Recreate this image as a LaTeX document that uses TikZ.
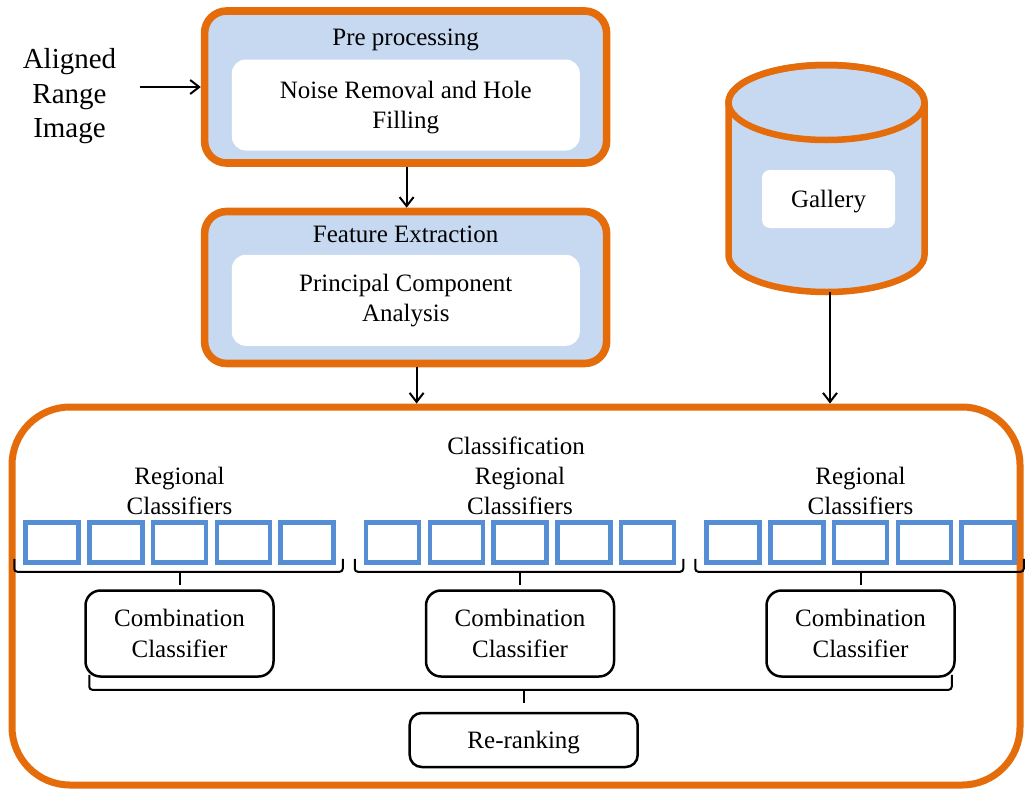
\documentclass[tikz,border=0pt]{standalone}
\usepackage{fontspec}
\setmainfont{Liberation Serif}
\usepackage{xcolor}
\usepackage{tikz}
\usetikzlibrary{arrows.meta,positioning}

\definecolor{boxorange}{HTML}{E46C0A}
\definecolor{paleblue}{HTML}{C6D9F1}
\definecolor{cellblue}{HTML}{558ED5}

\begin{document}
\begin{tikzpicture}[
    x=1pt, y=-1pt,
    font=\fontsize{25}{30.5}\selectfont,
    stage/.style={draw=boxorange, line width=7.6pt, fill=paleblue, rounded corners=22pt, minimum width=402pt, minimum height=152pt},
    panel/.style={fill=white, rounded corners=14pt, minimum width=348pt, minimum height=91pt, align=center},
    title/.style={anchor=base, inner sep=0pt},
    cell/.style={draw=cellblue, line width=4.5pt, minimum width=53pt, minimum height=40pt, inner sep=0pt},
    combo/.style={draw, line width=2.5pt, rounded corners=15pt, minimum width=188pt, minimum height=86pt, align=center},
    grp/.style={align=center, inner sep=0pt},
    bracket/.style={draw, line width=2pt, rounded corners=3pt},
    arr/.style={-{Straight Barb[length=9pt,width=14pt]}, line width=2pt}
  ]
  \useasboundingbox (0,0) rectangle (1027,790);

  % Input
  \node[font=\fontsize{29}{34.5}\selectfont, align=center] (input) at (69.5,96.5) {Aligned\\Range\\Image};

  % Stages
  \node[stage] (pre) at (405.6,87) {};
  \node[title] (pretitle) at (pre.center |- 0,45.5) {Pre processing};
  \node[panel, text depth=0pt] (noise) at (405.8,105) {Noise Removal and Hole\\Filling};

  \node[stage] (feat) at (405.6,287.5) {};
  \node[title] (feattitle) at (feat.center |- 0,242) {Feature Extraction};
  \node[panel] (pca) at (405.8,300.3) {Principal Component\\Analysis};

  % Gallery
  \draw[draw=boxorange, line width=6.5pt, fill=paleblue] (728.5,102.5) -- (728.5,255)
    arc[start angle=180, end angle=0, x radius=98, y radius=37] -- (924.5,102.5)
    arc[start angle=0, end angle=-180, x radius=98, y radius=37.5] -- cycle;
  \draw[draw=boxorange, line width=6.5pt] (826.5,102.5) ellipse [x radius=98, y radius=37.5];
  \node[panel, minimum width=133pt, minimum height=58pt, rounded corners=8pt, text depth=0pt] (gallery) at (828.5,199) {Gallery};
  \coordinate (dbbot) at (830,292);

  % Classification
  \node[draw=boxorange, line width=7pt, fill=white, rounded corners=58pt, minimum width=1008pt, minimum height=378pt] (classbox) at (516,596) {};
  \node[title] (classtitle) at (classbox.center |- 0,454) {Classification};

  \foreach \g in {0,1,2} {
    \foreach \i in {0,...,4}
      \node[cell] (c\g\i) at ({52+340.5*\g+63.75*\i},542.5) {};
    \node[grp, above=5pt of c\g2] (lbl\g) {Regional\\Classifiers};
    \node[combo] (comb\g) at (c\g2 |- 0,633.5) {Combination\\Classifier};
    \draw[bracket] ([xshift=-9pt,yshift=6pt]c\g0.south west) -- ([xshift=-9pt,yshift=-7pt]c\g0.south west)
      -- ([xshift=7pt,yshift=-7pt]c\g4.south east) -- ([xshift=7pt,yshift=6pt]c\g4.south east);
    \draw[bracket] ([yshift=-7pt]c\g2.south) -- ([yshift=-20pt]c\g2.south);
  }

  \node[combo, minimum width=228pt, minimum height=54pt, rounded corners=12pt, text depth=0pt] (rerank) at (523.7,740) {Re-ranking};
  \draw[bracket] ([xshift=5pt,yshift=3pt]comb0.south west) -- ([xshift=5pt,yshift=-12pt]comb0.south west)
    -- ([xshift=-4pt,yshift=-12pt]comb2.south east) -- ([xshift=-4pt,yshift=3pt]comb2.south east);
  \draw[bracket] ([yshift=22pt]rerank.north) -- ([yshift=9pt]rerank.north);

  % Arrows
  \draw[arr] ([xshift=20pt]input.east |- pre.west) -- (pre.west);
  \draw[arr] ([xshift=1pt]pre.south) -- ([xshift=1pt]feat.north);
  \draw[arr] ([xshift=11pt]feat.south) -- ([xshift=11pt]feat.south |- classbox.north);
  \draw[arr] (dbbot) -- (dbbot |- classbox.north);
\end{tikzpicture}
\end{document}
